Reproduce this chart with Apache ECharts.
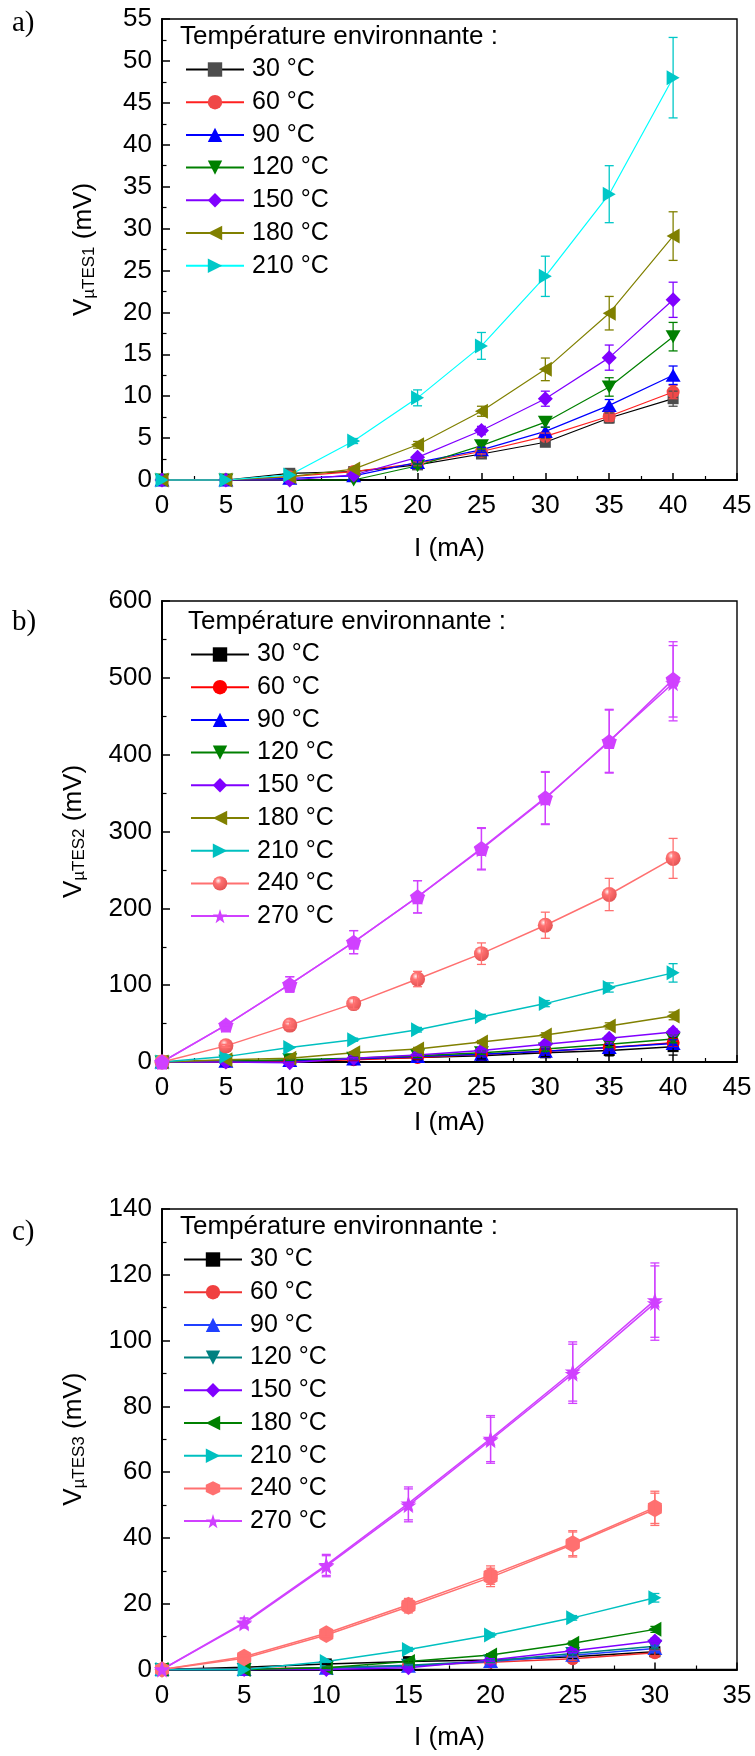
<!DOCTYPE html>
<html><head><meta charset="utf-8">
<script src="https://cdn.jsdelivr.net/npm/echarts@6/dist/echarts.min.js"></script>
<style>html,body{margin:0;padding:0;background:#fff}#c{width:755px;height:1756px}</style>
</head><body><div id="c"></div>
<script>
const FONT = '"Liberation Sans", Arial, sans-serif';

// ---------- categories ----------
const currentAB = [0, 5, 10, 15, 20, 25, 30, 35, 40];
const currentC = [0, 5, 10, 15, 20, 25, 30];
const tempsA = ['30 °C', '60 °C', '90 °C', '120 °C', '150 °C', '180 °C', '210 °C'];
const tempsBC = ['30 °C', '60 °C', '90 °C', '120 °C', '150 °C', '180 °C', '210 °C', '240 °C', '270 °C'];
const legendTitle = 'Température environnante :';
const yNamesSub = ['µTES1', 'µTES2', 'µTES3'];
const panelLabels = ['a)', 'b)', 'c)'];

// ---------- panel a (µTES1) ----------
const a30 = [0, 0, 0.8, 1.0, 1.8, 3.1, 4.5, 7.4, 9.7];
const a60 = [0, 0, 0.4, 1.0, 2.0, 3.4, 5.2, 7.6, 10.5];
const a90 = [0, 0, 0.2, 0.5, 2.1, 3.6, 5.8, 8.9, 12.5];
const a120 = [0, 0, 0, 0, 1.7, 4.1, 6.9, 11.1, 17.1];
const a150 = [0, 0, 0, 0.6, 2.7, 5.9, 9.7, 14.6, 21.5];
const a180 = [0, 0, 0.4, 1.3, 4.2, 8.2, 13.2, 19.9, 29.1];
const a210 = [0, 0, 0.6, 4.65, 9.8, 16.0, 24.3, 34.1, 48.0];
const a30Err = [0, 0, 0, 0, 0.2, 0.3, 0.4, 0.6, 0.9];
const a60Err = [0, 0, 0, 0, 0.2, 0.3, 0.4, 0.6, 0.8];
const a90Err = [0, 0, 0, 0, 0.2, 0.3, 0.5, 0.7, 1.1];
const a120Err = [0, 0, 0, 0, 0.2, 0.4, 0.6, 1.1, 1.7];
const a150Err = [0, 0, 0, 0, 0.3, 0.5, 0.9, 1.5, 2.1];
const a180Err = [0, 0, 0, 0.1, 0.4, 0.6, 1.35, 2.0, 2.9];
const a210Err = [0, 0, 0, 0.3, 0.95, 1.6, 2.4, 3.4, 4.8];

// ---------- panel b (µTES2) ----------
const b30 = [0, 1, 2, 4, 6, 8, 12, 15, 20];
const b60 = [0, 0, 1, 3, 6, 10, 14, 19, 25];
const b90 = [0, 1, 2, 4, 7, 10, 14, 19, 24];
const b120 = [0, 1, 3, 5, 8, 12, 17, 23, 30];
const b150 = [0, 0, -1, 5, 9, 15, 23, 31, 39];
const b180 = [0, 3, 5, 12, 17, 26, 35, 47, 60];
const b210 = [0, 7, 19, 29, 42, 59, 76, 97, 116];
const b240 = [0, 21, 48, 76, 108, 141, 178, 218, 265];
const b270 = [0, 48, 101, 156, 215, 277, 343, 418, 493];
const b270bis = [0, 48, 101, 156, 215, 278, 344, 417, 498];
const b30Err = [0, 0, 1, 2, 3, 4, 5, 7, 11];
const b60Err = [0, 0, 1, 1, 2, 2, 3, 4, 5];
const b90Err = [0, 0, 1, 1, 2, 2, 3, 4, 5];
const b120Err = [0, 0, 1, 1, 2, 2, 3, 4, 5];
const b150Err = [0, 0, 1, 1, 1, 2, 2, 3, 4];
const b180Err = [0, 0, 1, 1, 2, 2, 3, 4, 5];
const b210Err = [0, 0, 1, 2, 3, 3, 4, 6, 12];
const b240Err = [0, 2, 4, 7, 10, 14, 17, 21, 26];
const b270Err = [0, 3, 10, 15, 21, 27, 34, 41, 49];

// ---------- panel c (µTES3) ----------
const c30 = [0, 0.7, 1.7, 2.4, 2.9, 3.9, 5.4];
const c60 = [0, 0.2, 0.5, 1.2, 2.2, 3.3, 5.1];
const c90 = [0, 0, 0.4, 1.0, 2.4, 4.3, 6.4];
const c120 = [0, 0, 0.5, 1.3, 2.6, 4.9, 7.1];
const c150 = [0, 0, 0, 0.5, 2.9, 5.7, 8.7];
const c180 = [0, 0, 0.5, 2.4, 4.4, 8.0, 12.2];
const c210 = [0, 0, 2.4, 6.1, 10.5, 15.7, 21.8];
const c240 = [0, 3.4, 10.5, 19.1, 28.0, 38.0, 48.7];
const c240bis = [0, 3.9, 11.0, 19.7, 28.7, 38.4, 49.3];
const c270 = [0, 14.0, 31.4, 49.9, 69.7, 89.9, 111.4];
const c270bis = [0, 14.3, 31.8, 50.5, 70.2, 90.6, 112.3];
const c30Err = [0, 0, 0.2, 0.3, 0.4, 0.5, 0.8];
const c60Err = [0, 0, 0.2, 0.3, 0.4, 0.5, 0.8];
const c90Err = [0, 0, 0.2, 0.3, 0.4, 0.5, 0.8];
const c120Err = [0, 0, 0.2, 0.3, 0.4, 0.5, 0.8];
const c150Err = [0, 0, 0.2, 0.3, 0.4, 0.5, 0.8];
const c180Err = [0, 0, 0.2, 0.3, 0.4, 0.6, 0.9];
const c210Err = [0, 0, 0.2, 0.6, 0.6, 0.7, 1.3];
const c240Err = [0, 0.4, 1.0, 1.9, 2.8, 3.8, 4.9];
const c270Err = [0, 1.4, 3.2, 5.0, 7.0, 9.0, 11.3];

// ---------- symbols ----------
const STAR = 'path://M50,0 L61.2,34.5 L97.6,34.5 L68.2,55.9 L79.4,90.5 L50,69.1 L20.6,90.5 L31.8,55.9 L2.4,34.5 L38.8,34.5 Z';
const PENTA = 'path://M50,0 L97.6,34.5 L79.4,90.5 L20.6,90.5 L2.4,34.5 Z';
const HEXA = 'path://M50,0 L93.3,25 L93.3,75 L50,100 L6.7,75 L6.7,25 Z';
function sphere(c, dark) {
  return { type: 'radial', x: 0.38, y: 0.32, r: 0.75,
    colorStops: [{ offset: 0, color: '#fff4f4' }, { offset: 0.3, color: c }, { offset: 1, color: dark }] };
}

const specsA = [
  { n: tempsA[0], v: a30, e: a30Err, line: '#000000', fill: '#4d4d4d', sym: 'rect', size: 11 },
  { n: tempsA[1], v: a60, e: a60Err, line: '#ff2020', fill: '#f04848', sym: 'circle', size: 13 },
  { n: tempsA[2], v: a90, e: a90Err, line: '#0000ff', fill: '#0000ff', sym: 'triangle', size: [15, 13] },
  { n: tempsA[3], v: a120, e: a120Err, line: '#008000', fill: '#008000', sym: 'triangle', rot: 180, size: [15, 13] },
  { n: tempsA[4], v: a150, e: a150Err, line: '#8000ff', fill: '#8000ff', sym: 'diamond', size: 15 },
  { n: tempsA[5], v: a180, e: a180Err, line: '#808000', fill: '#808000', sym: 'triangle', rot: 90, size: [15, 13] },
  { n: tempsA[6], v: a210, e: a210Err, line: '#00ffff', fill: '#00c8c8', sym: 'triangle', rot: -90, size: [15, 13] }
];
const specsB = [
  { n: tempsBC[0], v: b30, e: b30Err, line: '#000000', fill: '#000000', sym: 'rect', size: 11 },
  { n: tempsBC[1], v: b60, e: b60Err, line: '#ff0000', fill: '#ff0000', sym: 'circle', size: 13 },
  { n: tempsBC[2], v: b90, e: b90Err, line: '#0000ff', fill: '#0000ff', sym: 'triangle', size: [15, 13] },
  { n: tempsBC[3], v: b120, e: b120Err, line: '#008000', fill: '#008000', sym: 'triangle', rot: 180, size: [15, 13] },
  { n: tempsBC[4], v: b150, e: b150Err, line: '#8000ff', fill: '#8000ff', sym: 'diamond', size: 15 },
  { n: tempsBC[5], v: b180, e: b180Err, line: '#808000', fill: '#808000', sym: 'triangle', rot: 90, size: [15, 13] },
  { n: tempsBC[6], v: b210, e: b210Err, line: '#00c0c0', fill: '#00c0c0', sym: 'triangle', rot: -90, size: [15, 13] },
  { n: tempsBC[7], v: b240, e: b240Err, line: '#ff7070', fill: sphere('#ff7070', '#e05050'), errc: '#ff7070', sym: 'circle', size: 15 },
  { n: tempsBC[8], v: b270, e: b270Err, line: '#d040ff', fill: '#d040ff', sym: STAR, size: 16 },
  { n: '270bis', v: b270bis, e: b270Err, line: '#d040ff', fill: '#d040ff', sym: PENTA, size: 15, hidden: true }
];
const specsC = [
  { n: tempsBC[0], v: c30, e: c30Err, line: '#000000', fill: '#000000', sym: 'rect', size: 11 },
  { n: tempsBC[1], v: c60, e: c60Err, line: '#f03030', fill: '#f04040', sym: 'circle', size: 13 },
  { n: tempsBC[2], v: c90, e: c90Err, line: '#2040ff', fill: '#2040ff', sym: 'triangle', size: [15, 13] },
  { n: tempsBC[3], v: c120, e: c120Err, line: '#008080', fill: '#008080', sym: 'triangle', rot: 180, size: [15, 13] },
  { n: tempsBC[4], v: c150, e: c150Err, line: '#8000ff', fill: '#8000ff', sym: 'diamond', size: 15 },
  { n: tempsBC[5], v: c180, e: c180Err, line: '#008000', fill: '#008000', sym: 'triangle', rot: 90, size: [15, 13] },
  { n: tempsBC[6], v: c210, e: c210Err, line: '#00c0c0', fill: '#00c0c0', sym: 'triangle', rot: -90, size: [15, 13] },
  { n: tempsBC[7], v: c240, e: c240Err, line: '#ff7070', fill: '#ff7070', sym: HEXA, size: [14, 16] },
  { n: '240bis', v: c240bis, e: c240Err, line: '#ff7070', fill: '#ff7070', sym: HEXA, size: [14, 16], hidden: true },
  { n: tempsBC[8], v: c270, e: c270Err, line: '#d040ff', fill: '#d040ff', sym: STAR, size: 16 },
  { n: '270bis', v: c270bis, e: c270Err, line: '#d040ff', fill: '#d040ff', sym: STAR, size: 16, hidden: true }
];

function errRenderer(color) {
  return function (params, api) {
    const x = api.value(0), lo = api.value(1), hi = api.value(2);
    if (!(hi - lo > 0)) return null;
    const p1 = api.coord([x, hi]), p2 = api.coord([x, lo]);
    const w = 4.5;
    const st = { stroke: color, lineWidth: 1.3 };
    return { type: 'group', children: [
      { type: 'line', shape: { x1: p1[0], y1: p1[1], x2: p2[0], y2: p2[1] }, style: st },
      { type: 'line', shape: { x1: p1[0] - w, y1: p1[1], x2: p1[0] + w, y2: p1[1] }, style: st },
      { type: 'line', shape: { x1: p2[0] - w, y1: p2[1], x2: p2[0] + w, y2: p2[1] }, style: st }
    ] };
  };
}

const series = [];
function build(idx, prefix, xs, specs, lw) {
  specs.forEach(s => {
    const name = prefix + '|' + s.n;
    series.push({
      type: 'line', name, xAxisIndex: idx, yAxisIndex: idx,
      data: xs.map((x, i) => [x, s.v[i]]),
      symbol: s.sym, symbolSize: s.size, symbolRotate: s.rot || 0, showAllSymbol: true,
      lineStyle: { color: s.line, width: lw }, itemStyle: { color: s.fill },
      z: 2, clip: false, animation: false, silent: true
    });
  });
  specs.forEach(s => {
    series.push({
      type: 'custom', name: prefix + '|' + s.n + '|err', xAxisIndex: idx, yAxisIndex: idx,
      renderItem: errRenderer(s.errc || (typeof s.fill === 'string' ? s.fill : s.line)),
      data: xs.map((x, i) => [x, s.v[i] - s.e[i], s.v[i] + s.e[i]]),
      encode: { x: 0, y: [1, 2] }, z: 3, silent: true, animation: false
    });
  });
}
build(0, 'a', currentAB, specsA, 1.2);
build(1, 'b', currentAB, specsB, 1.5);
build(2, 'c', currentC, specsC, 1.5);

const grids = [
  { left: 162, top: 19, width: 575, height: 461 },
  { left: 162, top: 601, width: 575, height: 461 },
  { left: 162, top: 1209, width: 575, height: 460.5 }
].map(g => Object.assign(g, { show: true, borderColor: '#000', borderWidth: 1.4, containLabel: false }));

const xMax = [45, 45, 35];
const yMax = [55, 600, 140];
const yInt = [5, 100, 20];
const xNameGap = [56, 48, 55];
const yNameGap = [64, 74, 74];

function xAxis(i) {
  return {
    type: 'value', gridIndex: i, min: 0, max: xMax[i], interval: 5,
    axisLine: { show: true, onZero: false, lineStyle: { color: '#000', width: 2 } },
    axisTick: { show: true, inside: true, length: 7, lineStyle: { color: '#000', width: 1.5 } },
    minorTick: { show: true, splitNumber: 2, length: 4, lineStyle: { color: '#000', width: 1.2 } },
    axisLabel: { fontSize: 26, color: '#000', fontFamily: FONT, margin: 13 },
    splitLine: { show: false }, minorSplitLine: { show: false },
    name: 'I (mA)', nameLocation: 'middle', nameGap: xNameGap[i],
    nameTextStyle: { fontSize: 26, color: '#000', fontFamily: FONT }
  };
}
function yAxis(i) {
  return {
    type: 'value', gridIndex: i, min: 0, max: yMax[i], interval: yInt[i],
    axisLine: { show: true, onZero: false, lineStyle: { color: '#000', width: 2 } },
    axisTick: { show: true, inside: true, length: 8, lineStyle: { color: '#000', width: 1.5 } },
    minorTick: { show: true, splitNumber: 2, length: 4.5, lineStyle: { color: '#000', width: 1.2 } },
    axisLabel: { fontSize: 26, color: '#000', fontFamily: FONT, margin: 10 },
    splitLine: { show: false }, minorSplitLine: { show: false },
    name: '{v|V}{s|' + yNamesSub[i] + '}{v| (mV)}', nameLocation: 'middle', nameGap: yNameGap[i],
    nameTextStyle: { color: '#000', rich: {
      v: { fontSize: 26, fontFamily: FONT, color: '#000' },
      s: { fontSize: 17, fontFamily: FONT, color: '#000', padding: [12, 0, 0, 0] }
    } }
  };
}

const legendPos = [{ left: 180, top: 52 }, { left: 185, top: 637 }, { left: 178, top: 1242 }];
function legend(i, names, prefix) {
  return Object.assign({
    orient: 'vertical', data: names.map(n => prefix + '|' + n),
    formatter: n => n.split('|')[1],
    itemWidth: 58, itemHeight: 18, itemGap: 7.7, selectedMode: false,
    textStyle: { fontSize: 25, fontFamily: FONT, color: '#000', lineHeight: 24, padding: [0, 0, 0, 3] }
  }, legendPos[i]);
}

const titlePos = [[180, 37], [188, 622], [180, 1227]];
const labelPos = [[12, 23], [12, 622], [12, 1232]];
const graphic = [];
titlePos.forEach(p => graphic.push({ type: 'text', x: p[0], y: p[1],
  style: { text: legendTitle, font: '26px ' + FONT, fill: '#000', verticalAlign: 'middle' } }));
labelPos.forEach((p, i) => graphic.push({ type: 'text', x: p[0], y: p[1],
  style: { text: panelLabels[i], font: '29px "Liberation Serif", "Times New Roman", serif', fill: '#000', verticalAlign: 'middle' } }));

const chart = echarts.init(document.getElementById('c'), null, { renderer: 'canvas' });
chart.setOption({
  animation: false,
  backgroundColor: '#fff',
  grid: grids,
  xAxis: [0, 1, 2].map(xAxis),
  yAxis: [0, 1, 2].map(yAxis),
  legend: [legend(0, tempsA, 'a'), legend(1, tempsBC, 'b'), legend(2, tempsBC, 'c')],
  graphic,
  series
});
</script></body></html>
